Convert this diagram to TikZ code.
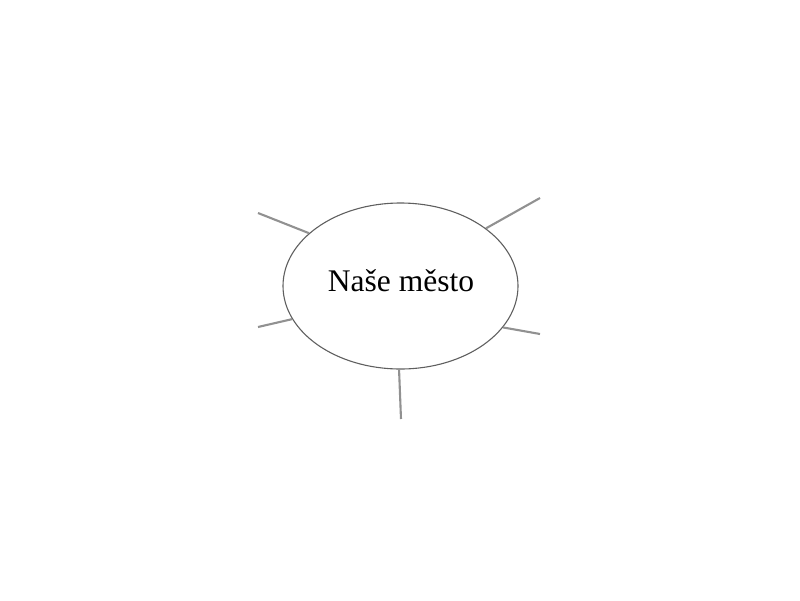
\documentclass[tikz,border=0pt]{standalone}
\usepackage{fontspec}
\setmainfont{Liberation Serif}
\usetikzlibrary{shapes.geometric}
\definecolor{rimgray}{RGB}{95,95,95}
\definecolor{spokegray}{RGB}{145,145,145}
\tikzset{
  rim/.style={ellipse, draw=rimgray, line width=1.1pt, minimum width=235pt, minimum height=166pt, inner sep=0pt},
  spoke/.style={draw=spokegray, line width=2.1pt},
  title/.style={font=\fontsize{31.5}{36}\selectfont, text=black, inner sep=0pt, anchor=base}
}
\begin{document}
\begin{tikzpicture}[x=1pt,y=-1pt]
\useasboundingbox (0,0) rectangle (800,600);
\node[rim] (e) at (400.5,286) {};
\node[title] (t) at (401,291) {Naše město};
\coordinate (ul) at (258,213);
\coordinate (ur) at (540,198);
\coordinate (ll) at (258,327);
\coordinate (lr) at (540,334);
\coordinate (bt) at (401,419);
\draw[spoke] (ul) -- (e.150.2);
\draw[spoke] (ur) -- (e.34.3);
\draw[spoke] (ll) -- (e.197.1);
\draw[spoke] (lr) -- (e.338.2);
\draw[spoke] (bt) -- (e.269.3);
\end{tikzpicture}
\end{document}
